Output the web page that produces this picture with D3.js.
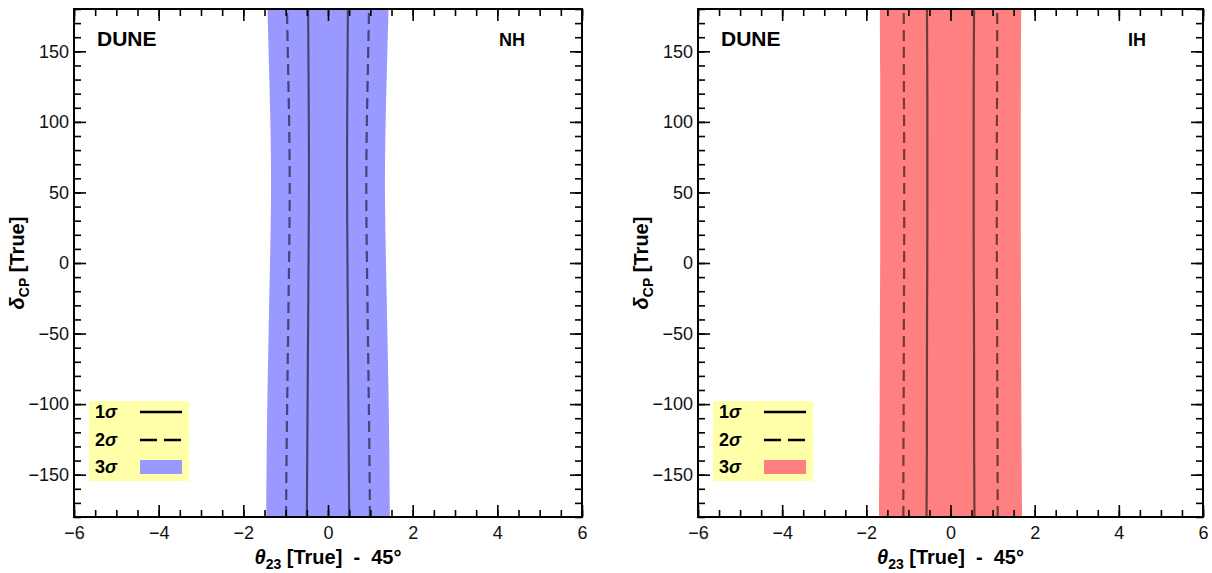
<!DOCTYPE html>
<html>
<head>
<meta charset="utf-8">
<script src="https://cdn.jsdelivr.net/npm/d3@7"></script>
<style>
  body { margin: 0; background: #fff; }
  svg { display: block; font-family: "Liberation Sans", Arial, sans-serif; }
</style>
</head>
<body>
<div id="chart"></div>
<script>
// delta_CP grid (deg) and half-widths of the allowed regions in theta23 - 45 (deg)
const delta = [-180, -135, -90, -45, 0, 45, 90, 135, 180];
const nh1 = [0.50, 0.49, 0.48, 0.47, 0.46, 0.45, 0.45, 0.46, 0.47];
const nh2 = [0.99, 0.98, 0.96, 0.94, 0.92, 0.90, 0.91, 0.94, 0.97];
const nh3 = [1.46, 1.45, 1.43, 1.40, 1.37, 1.34, 1.35, 1.39, 1.43];
const ih1 = [0.57, 0.56, 0.56, 0.56, 0.55, 0.55, 0.55, 0.55, 0.56];
const ih2 = [1.12, 1.12, 1.11, 1.11, 1.10, 1.10, 1.10, 1.11, 1.11];
const ih3 = [1.70, 1.69, 1.68, 1.68, 1.67, 1.67, 1.67, 1.67, 1.68];

const xMajor = [-6, -4, -2, 0, 2, 4, 6];
const xMinor = d3.range(-6, 6.01, 0.5);
const yMajor = [-150, -100, -50, 0, 50, 100, 150];
const yMinor = d3.range(-180, 181, 10);

const svg = d3.select('#chart').append('svg')
    .attr('width', 1212)
    .attr('height', 573);

const panels = [
    {id: 'nh', left: 74, right: 582, label: 'NH', fill: '#9999ff', s1: nh1, s2: nh2, s3: nh3},
    {id: 'ih', left: 698, right: 1203, label: 'IH', fill: '#ff8080', s1: ih1, s2: ih2, s3: ih3}
];
const plotTop = 9, plotBottom = 517;

panels.forEach(p => drawPanel(p));

function drawPanel(p) {
    const x = d3.scaleLinear().domain([-6, 6]).range([p.left, p.right]);
    const y = d3.scaleLinear().domain([-180, 180]).range([plotBottom, plotTop]);
    const g = svg.append('g');

    g.append('clipPath').attr('id', 'clip-' + p.id)
        .append('rect')
        .attr('x', p.left).attr('y', plotTop)
        .attr('width', p.right - p.left).attr('height', plotBottom - plotTop);

    const plot = g.append('g').attr('clip-path', `url(#clip-${p.id})`);
    const pts = s => delta.map((d, i) => ({d: d, w: s[i]}));

    // 3 sigma band
    const area = d3.area()
        .y(d => y(d.d))
        .x0(d => x(-d.w))
        .x1(d => x(d.w))
        .curve(d3.curveBasis);
    plot.append('path')
        .datum(pts(p.s3))
        .attr('fill', p.fill)
        .attr('d', area);

    // 1 and 2 sigma contours
    const line = sign => d3.line()
        .x(d => x(sign * d.w))
        .y(d => y(d.d))
        .curve(d3.curveBasis);
    [[p.s1, null], [p.s2, '11,6']].forEach(([s, dash]) => {
        [-1, 1].forEach(sign => {
            plot.append('path')
                .datum(pts(s))
                .attr('fill', 'none')
                .attr('stroke', 'rgba(0,0,0,0.55)')
                .attr('stroke-width', 2.2)
                .attr('stroke-dasharray', dash)
                .attr('d', line(sign));
        });
    });

    // axes: inward ticks on all four sides
    const addAxis = (axis, tr) => {
        const a = g.append('g').attr('transform', tr).call(axis);
        a.select('.domain').remove();
        a.selectAll('.tick line').attr('stroke', '#000').attr('stroke-width', 1.6);
        return a;
    };
    addAxis(d3.axisBottom(x).tickValues(xMajor).tickSize(-12).tickPadding(9)
        .tickFormat(d3.format('d')), `translate(0,${plotBottom})`);
    addAxis(d3.axisBottom(x).tickValues(xMinor).tickSize(-7).tickFormat(''), `translate(0,${plotBottom})`);
    addAxis(d3.axisTop(x).tickValues(xMajor).tickSize(-12).tickFormat(''), `translate(0,${plotTop})`);
    addAxis(d3.axisTop(x).tickValues(xMinor).tickSize(-7).tickFormat(''), `translate(0,${plotTop})`);
    addAxis(d3.axisLeft(y).tickValues(yMajor).tickSize(-12).tickPadding(5)
        .tickFormat(d3.format('d')), `translate(${p.left},0)`);
    addAxis(d3.axisLeft(y).tickValues(yMinor).tickSize(-7).tickFormat(''), `translate(${p.left},0)`);
    addAxis(d3.axisRight(y).tickValues(yMajor).tickSize(-12).tickFormat(''), `translate(${p.right},0)`);
    addAxis(d3.axisRight(y).tickValues(yMinor).tickSize(-7).tickFormat(''), `translate(${p.right},0)`);
    g.selectAll('.tick text')
        .attr('font-size', 18)
        .attr('font-family', '"Liberation Sans", Arial, sans-serif')
        .attr('fill', '#111');

    g.append('rect')
        .attr('x', p.left).attr('y', plotTop)
        .attr('width', p.right - p.left).attr('height', plotBottom - plotTop)
        .attr('fill', 'none').attr('stroke', '#000').attr('stroke-width', 2);

    // panel labels
    g.append('text')
        .attr('x', p.left + 23).attr('y', 46)
        .attr('font-size', 21).attr('font-weight', 'bold')
        .text('DUNE');
    g.append('text')
        .attr('x', p.right - 57).attr('y', 46)
        .attr('text-anchor', 'end')
        .attr('font-size', 18).attr('font-weight', 'bold')
        .text(p.label);

    // legend
    const lx = p.left + 15, ly = 401;
    const leg = g.append('g');
    leg.append('rect')
        .attr('x', lx).attr('y', ly)
        .attr('width', 100).attr('height', 80)
        .attr('fill', '#ffffaa');
    const rows = [
        {n: '1', yy: ly + 11, kind: 'solid'},
        {n: '2', yy: ly + 39, kind: 'dash'},
        {n: '3', yy: ly + 66, kind: 'band'}
    ];
    rows.forEach(r => {
        const t = leg.append('text')
            .attr('x', lx + 6).attr('y', r.yy + 6)
            .attr('font-size', 18).attr('font-weight', 'bold');
        t.append('tspan').text(r.n);
        t.append('tspan').attr('font-style', 'italic').text('σ');
        if (r.kind === 'band') {
            leg.append('rect')
                .attr('x', lx + 51).attr('y', r.yy - 7)
                .attr('width', 42).attr('height', 14)
                .attr('fill', p.fill);
        } else {
            leg.append('line')
                .attr('x1', lx + 51).attr('x2', lx + 93)
                .attr('y1', r.yy).attr('y2', r.yy)
                .attr('stroke', '#000').attr('stroke-width', 2.5)
                .attr('stroke-dasharray', r.kind === 'dash' ? '17,7' : null);
        }
    });

    // axis titles
    const xt = g.append('text')
        .attr('x', (p.left + p.right) / 2).attr('y', 564)
        .attr('text-anchor', 'middle')
        .attr('font-size', 20).attr('font-weight', 'bold');
    xt.append('tspan').attr('font-style', 'italic').text('θ');
    xt.append('tspan').attr('font-size', 14).attr('dy', 5).text('23');
    xt.append('tspan').attr('dy', -5).text('\u00a0[True]\u00a0\u00a0-\u00a0\u00a045°');

    const yt = g.append('text')
        .attr('transform', `translate(${p.left - 50},${(plotTop + plotBottom) / 2}) rotate(-90)`)
        .attr('text-anchor', 'middle')
        .attr('font-size', 20).attr('font-weight', 'bold');
    yt.append('tspan').attr('font-style', 'italic').text('δ');
    yt.append('tspan').attr('font-size', 14).attr('dy', 5).text('CP');
    yt.append('tspan').attr('dy', -5).text('\u00a0[True]');
}
</script>
</body>
</html>
